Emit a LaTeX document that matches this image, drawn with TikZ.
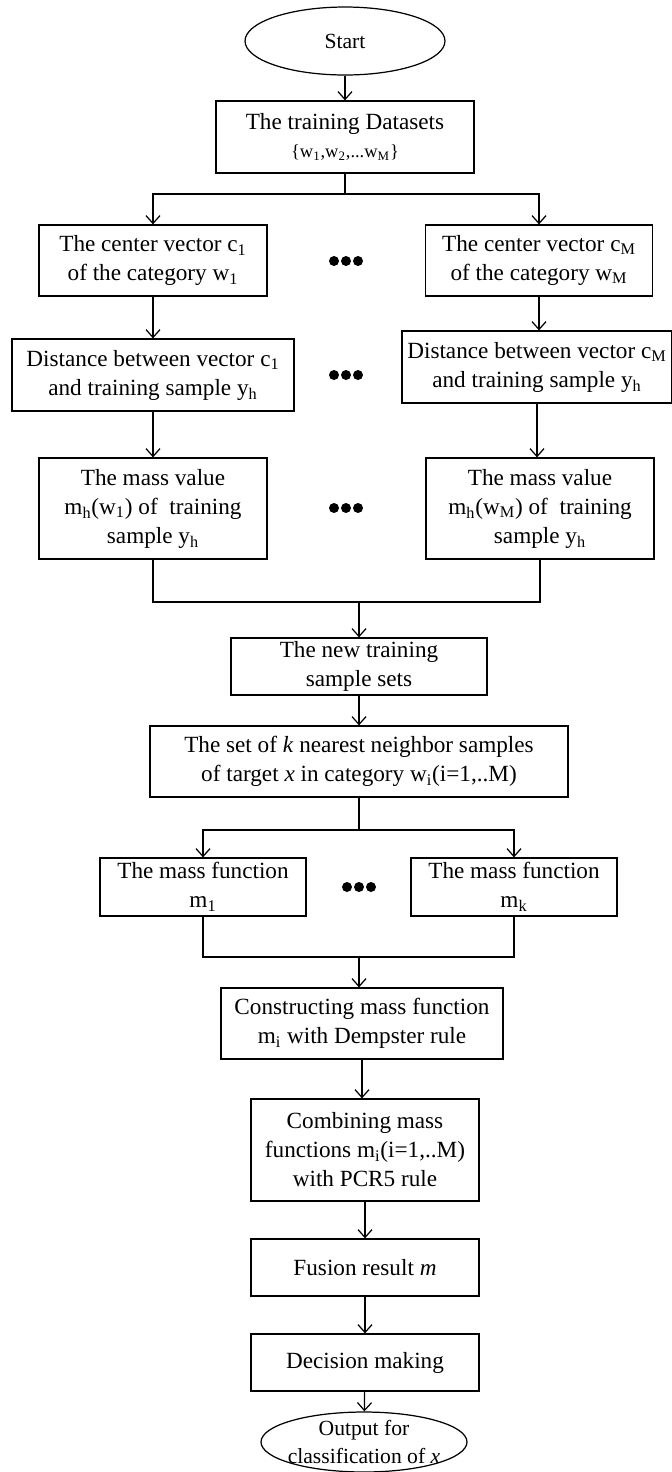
\documentclass[tikz,border=0pt]{standalone}
\usepackage{fontspec}
\setmainfont{Liberation Serif}
\usepackage{tikz}
\usetikzlibrary{calc, positioning, shapes.geometric, arrows.meta}

\tikzset{
    box/.style={draw, line width=0.7pt, align=center, inner sep=0pt, font=\fontsize{13.2}{16.5}\selectfont},
    oval/.style={draw, ellipse, line width=0.7pt, inner sep=0pt},
    sz/.style 2 args={minimum width=#1cm, minimum height=#2cm},
    link/.style={line width=0.7pt},
    arr/.style={link, -{Straight Barb[length=4.5pt, width=8pt]}},
    ovaltext/.style={align=center, inner sep=0pt, font=\fontsize{12.3}{15.5}\selectfont},
}

\begin{document}
\begin{tikzpicture}[x=0.02cm, y=-0.02cm]
                \useasboundingbox (0,0) rectangle (672,1472);
                
                \node[oval, sz={4}{1.36}] (start) at (345,41) {};
                \node[ovaltext] (starttxt) at (start) {Start};
                \node[box, sz={5.16}{1.44}] (data) at (345,137) {The training Datasets\\[-1pt]{\fontsize{10.5}{12}\selectfont \{w\textsubscript{1},w\textsubscript{2},...w\textsubscript{M}\}}};
                
                \node[box, sz={4.56}{1.42}] (c1) at (153,260.5) {The center vector c\textsubscript{1}\\of the category w\textsubscript{1}};
                \node[box, sz={4.54}{1.42}] (cM) at (539,260.5) {The center vector c\textsubscript{M}\\of the category w\textsubscript{M}};
                \node[box, sz={5.64}{1.44}] (d1) at (153,375) {Distance between vector c\textsubscript{1}\\and training sample y\textsubscript{h}};
                \node[box, sz={5.40}{1.44}] (dM) at (537,367) {Distance between vector c\textsubscript{M}\\and training sample y\textsubscript{h}};
                \node[box, sz={4.56}{2.02}] (mv1) at (153,508.5) {The mass value\\m\textsubscript{h}(w\textsubscript{1}) of~ training\\sample y\textsubscript{h}};
                \node[box, sz={4.56}{2.02}] (mvM) at (540,508.5) {The mass value\\m\textsubscript{h}(w\textsubscript{M}) of~ training\\sample y\textsubscript{h}};
                
                \node[box, sz={5.12}{1.14}] (new) at (359,666.5) {The new training\\sample sets};
                \node[box, sz={8.36}{1.42}] (set) at (359,761.5) {The set of \textit{k} nearest neighbor samples\\of target \textit{x} in category w\textsubscript{i}(i=1,..M)};
                \node[box, sz={4.12}{1.16}] (mf1) at (203,887) {The mass function\\m\textsubscript{1}};
                \node[box, sz={4.12}{1.16}] (mfk) at (514,887) {The mass function\\m\textsubscript{k}};
                \node[box, sz={5.64}{1.42}] (cons) at (362,1023.5) {Constructing mass function\\m\textsubscript{i} with Dempster rule};
                \node[box, sz={4.56}{2.04}] (comb) at (365,1150) {Combining mass\\functions m\textsubscript{i}(i=1,..M)\\with PCR5 rule};
                \node[box, sz={4.56}{1.14}] (fusion) at (365,1267.5) {Fusion result \textit{m}};
                \node[box, sz={4.56}{1.14}] (decision) at (365,1362.5) {Decision making};
                \node[oval, sz={4.12}{1.2}] (out) at (364,1442) {};
                \node[ovaltext] (outtxt) at (out) {Output for\\classification of \textit{x}};
                
                \coordinate (s1) at (345,194);
                \coordinate (j1) at (359,602);
                \coordinate (s2) at (359,830);
                \coordinate (j2) at (359,957);
                
                \draw[arr] (start) -- (data);
                \draw[link] (data) -- (s1);
                \foreach \i in {c1, cM}
                \draw[arr] (s1) -| (\i);
                
                \foreach \i/\j in {c1/d1, d1/mv1, cM/dM, dM/mvM}
                \draw[arr] (\i) -- (\i |- \j.north);
                
                \draw[link] (mv1) |- (j1) -| (mvM);
                \draw[arr] (j1) -- (new);
                \draw[arr] (new) -- (set);
                \draw[link] (set) -- (s2);
                \foreach \i in {mf1, mfk}
                \draw[arr] (s2) -| (\i);
                
                \draw[link] (mf1) |- (j2) -| (mfk);
                \draw[arr] (j2) -- (j2 |- cons.north);
                \draw[arr] (cons.south) -- (cons.south |- comb.north);
                \foreach \i/\j in {comb/fusion, fusion/decision, decision/out}
                \draw[arr] (\i) -- (\j);
                
                % dots between the columns
                \foreach \x/\y in {346/261, 346/375, 346/508, 359/887}
                \foreach \k in {-1,0,1}
                \fill (\x+\k*12,\y) circle[radius=0.1cm];
            \end{tikzpicture}
\end{document}
